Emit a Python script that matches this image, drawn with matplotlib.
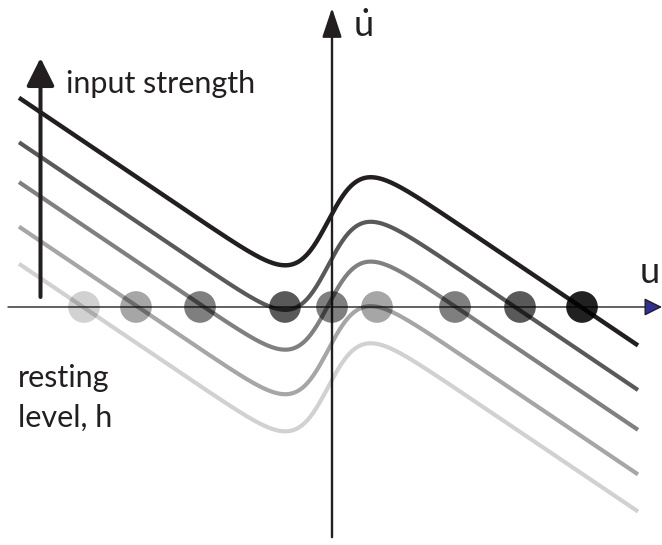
import numpy as np
import matplotlib
matplotlib.use("Agg")
import matplotlib.pyplot as plt

plt.rcParams['font.family'] = ['Lato', 'DejaVu Sans']
plt.rcParams['mathtext.fontset'] = 'custom'
plt.rcParams['mathtext.rm'] = 'Lato'
plt.rcParams['mathtext.it'] = 'Lato'

# ---- data ----
# resting levels (h + s) of the five curves, top (strong input) to bottom
curve_levels = [-0.02, -0.68, -1.27, -1.93, -2.48]
curve_grays = [0.13, 0.35, 0.50, 0.65, 0.82]
sigmoid_gain = 2.52
sigmoid_beta = 6.0
sigmoid_center = -0.03
u_range = [-3.12, 3.07]

# fixed points on the u axis and the curve each belongs to
dot_u = [-2.47, -1.95, -1.31, -0.46, 0.01, 0.46, 1.24, 1.89, 2.51]
dot_curve = [4, 3, 2, 1, 2, 3, 2, 1, 0]

INK = '#231f20'

fig = plt.figure(figsize=(6.62, 5.45), dpi=100)
ax = fig.add_axes([0, 0, 1, 1])
ax.set_xlim(-3.31, 3.31)
ax.set_ylim(-3.526, 4.548)
ax.axis('off')

u = np.linspace(u_range[0], u_range[1], 600)
for lvl, g in zip(curve_levels, curve_grays):
    sig = 1.0 / (1.0 + np.exp(-sigmoid_beta * (u - sigmoid_center)))
    du = -u + lvl + sigmoid_gain * sig
    col = INK if g < 0.2 else str(g)
    ax.plot(u, du, color=col, lw=3.2 if g < 0.2 else 3.0,
            solid_capstyle='butt', zorder=3)

# x axis with blue arrowhead
ax.annotate('', xy=(3.31, 0), xytext=(-3.23, 0),
            arrowprops=dict(arrowstyle='-|>,head_length=11,head_width=5.5',
                            mutation_scale=1, lw=1.0, edgecolor=INK,
                            facecolor='#2e3192', shrinkA=0, shrinkB=0),
            zorder=4)
# y axis
ax.annotate('', xy=(0.01, 4.43), xytext=(0.01, -3.41),
            arrowprops=dict(arrowstyle='-|>,head_length=18,head_width=6',
                            mutation_scale=1, lw=1.7, color=INK,
                            shrinkA=0, shrinkB=0),
            zorder=4)
# input strength arrow
ax.annotate('', xy=(-2.905, 3.69), xytext=(-2.905, 0.148),
            arrowprops=dict(arrowstyle='-|>,head_length=17,head_width=8.5',
                            mutation_scale=1, lw=2.9, color=INK,
                            shrinkA=0, shrinkB=0),
            zorder=4)

# fixed points (dark translucent discs)
for du_, ci in zip(dot_u, dot_curve):
    a = 1.0 - curve_grays[ci]
    ax.scatter([du_], [0], s=520, color='black', alpha=a, edgecolors='none',
               zorder=5)

ax.text(-2.65, 3.17, 'input strength', fontsize=22, color=INK,
        ha='left', va='baseline')
ax.text(-3.13, -1.185, 'resting', fontsize=22, color=INK,
        ha='left', va='baseline')
ax.text(-3.13, -1.778, 'level, h', fontsize=22, color=INK,
        ha='left', va='baseline')
ax.text(3.09, 0.356, 'u', fontsize=26, color=INK, ha='left', va='baseline')
ax.text(0.22, 4.0, r'$\dot{\mathrm{u}}$', fontsize=26, color=INK,
        ha='left', va='baseline')

fig.savefig('out.png', dpi=100)
